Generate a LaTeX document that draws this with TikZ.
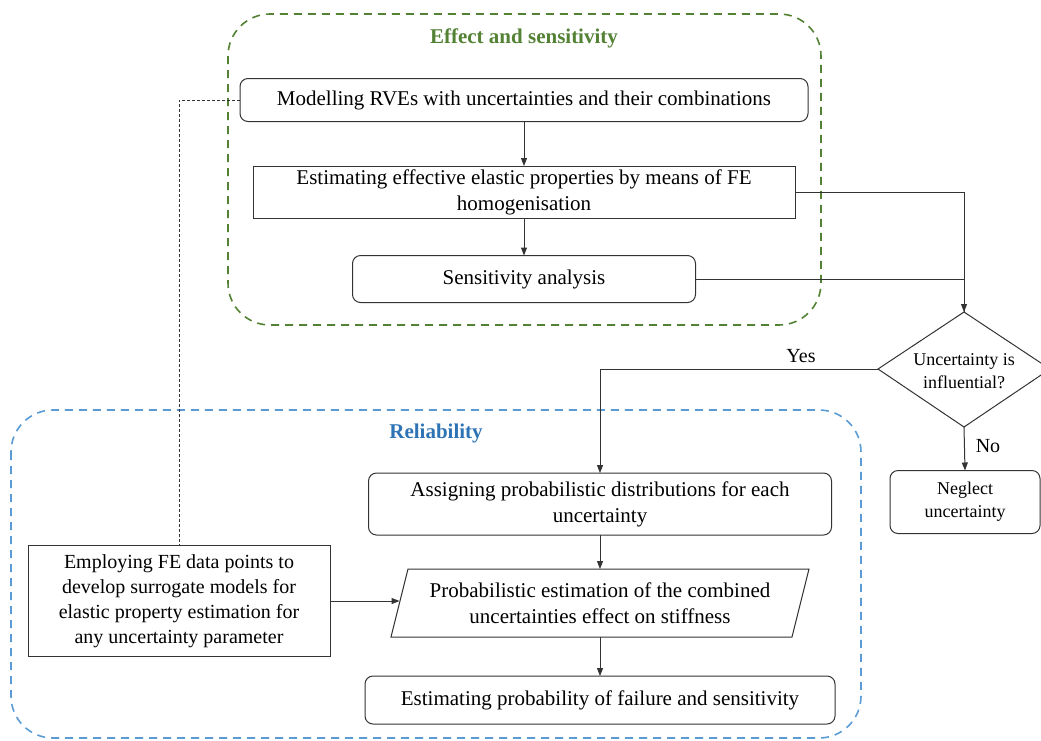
\documentclass[tikz,border=0pt]{standalone}
\usepackage{fontspec}
\setmainfont{Liberation Serif}
\usetikzlibrary{arrows.meta,calc}
\definecolor{grn}{RGB}{84,130,53}
\definecolor{blu}{RGB}{91,155,213}
\definecolor{blut}{RGB}{46,116,181}
\begin{document}
\begin{tikzpicture}[x=1pt,y=-1pt,
  every node/.style={inner sep=0pt,outer sep=0pt},
  txt/.style={font=\fontsize{21}{26}\selectfont,align=center},
  rbox/.style={txt,draw=black!80,line width=1pt,rounded corners=8pt},
  sbox/.style={txt,draw=black!80,line width=1pt},
  arr/.style={-{Triangle[length=8pt,width=6pt]},line width=1pt,draw=black!80},
  ln/.style={line width=1pt,draw=black!80},
  lbl/.style={font=\fontsize{20}{24}\selectfont},
  grp/.style={line width=1.6pt,dash pattern=on 8pt off 6pt,rounded corners=42pt}]
\useasboundingbox (0,0) rectangle (1041,740);
% groups
\draw[grp,draw=grn] (228,14) rectangle (821,325);
\draw[grp,draw=blu] (11,410) rectangle (861,738);
\node[font=\fontsize{21}{26}\selectfont\bfseries,text=grn] (tg) at (524,38) {Effect and sensitivity};
\node[font=\fontsize{21}{26}\selectfont\bfseries,text=blut] (tb) at (436,433) {Reliability};
% nodes
\node[rbox,minimum width=568pt,minimum height=43pt] (m) at (524,100) {Modelling RVEs with uncertainties and their combinations};
\node[sbox,minimum width=542pt,minimum height=52pt] (e) at (524,192) {Estimating effective elastic properties by means of FE\\homogenisation};
\node[rbox,minimum width=343pt,minimum height=47pt] (s) at (524,279) {Sensitivity analysis};
\coordinate (dt) at (964,312);
\coordinate (dl) at (878,369);
\coordinate (dr) at (1050,369);
\coordinate (db) at (964,427);
\draw[ln] (dt) -- (dl) -- (db) -- (dr) -- cycle;
\node[font=\fontsize{18}{23}\selectfont,align=center] (d) at (964,371) {Uncertainty is\\influential?};
\node[rbox,font=\fontsize{18}{23}\selectfont,minimum width=150pt,minimum height=63pt] (n) at (965,502) {Neglect\\uncertainty};
\node[rbox,minimum width=463pt,minimum height=62pt] (a) at (600,504) {Assigning probabilistic distributions for each\\uncertainty};
\node[txt,minimum width=401pt,minimum height=68pt] (p) at (600,603) {Probabilistic estimation of the combined\\uncertainties effect on stiffness};
\draw[ln] ($(p.south west)+(-8.5,0)$) -- ($(p.north west)+(8.5,0)$) -- ($(p.north east)+(8.5,0)$) -- ($(p.south east)+(-8.5,0)$) -- cycle;
\node[rbox,minimum width=470pt,minimum height=48pt] (f) at (600,700) {Estimating probability of failure and sensitivity};
\node[sbox,font=\fontsize{20}{25}\selectfont,minimum width=302pt,minimum height=111pt] (em) at (179,601) {Employing FE data points to\\develop surrogate models for\\elastic property estimation for\\any uncertainty parameter};
\node[lbl] (yes) at (801,356) {Yes};
\node[lbl] (no) at (988,446) {No};
% connectors
\draw[arr] (m) -- (e);
\draw[arr] (e) -- (s);
\draw[ln] (e.east) -| (dt);
\draw[arr] (s.east) -| (dt);
\draw[arr] (dl) -| (a.north);
\draw[arr] (db) -- (n.north);
\draw[arr] (a) -- (p);
\draw[arr] (p) -- (f);
\draw[arr] (em.east) -- (p.west |- em.east);
\draw[line width=0.8pt,dash pattern=on 3pt off 2pt,draw=black!80] (m.west) -| (em.north);
\end{tikzpicture}
\end{document}
